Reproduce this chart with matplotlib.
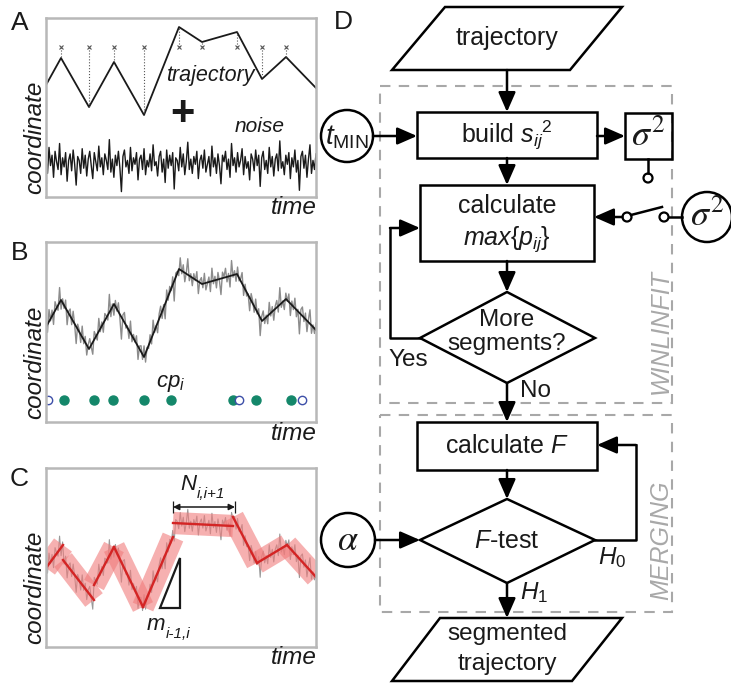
import numpy as np
import matplotlib.pyplot as plt
from matplotlib.patches import Rectangle, Polygon, Circle

plt.rcParams['font.family'] = 'Liberation Sans'
plt.rcParams['mathtext.fontset'] = 'custom'
plt.rcParams['mathtext.rm'] = 'Liberation Sans'
plt.rcParams['mathtext.it'] = 'Liberation Sans:italic'
plt.rcParams['mathtext.bf'] = 'Liberation Sans:bold'
plt.rcParams['mathtext.sf'] = 'Liberation Sans'

W, H = 731, 683

# true trajectory: change point times and heights (panel A and B)
cp_t = [0, 15, 43, 68, 98, 133, 156, 191, 216, 240, 270]
traj_y = [30, 57, 8, 53, 0, 88, 73, 83, 36, 58, 27]

# noise samples
noise = [
    0.3, -0.8, 1.2, -0.2, 0.6, -1.1, 0.9, 0.1, -0.5, 1.5,
    -0.9, 0.4, -0.3, 0.8, -1.4, 0.2, 0.7, -0.6, 1.0, -0.1,
    -1.7, 0.5, 0.2, -0.8, 1.1, -0.4, 0.6, -1.0, 0.3, 0.9,
    -0.2, -1.2, 0.8, 0.1, -0.6, 1.3, -0.3, 0.4, -0.9, 0.7,
    0.2, -0.5, 1.8, -0.7, 0.3, -1.1, 0.6, -0.2, 0.9, -0.4,
    -2.2, 0.5, 1.0, -0.3, 0.2, -0.8, 1.2, -0.6, 0.4, -0.1,
    0.8, -1.3, 0.3, 0.6, -0.5, 1.1, -0.9, 0.2, -0.3, 0.7,
    -0.6, 1.4, -0.2, 0.1, -1.0, 0.5, 0.9, -0.7, 0.3, -1.5,
    1.0, -0.4, 0.6, -0.2, 0.8, -2.0, 0.4, 0.2, -0.6, 1.2,
    -0.3, 0.7, -0.9, 0.1, 1.6, -0.5, 0.3, -0.8, 0.5, -0.1,
    0.9, -1.2, 0.2, 0.6, -0.4, 1.0, -0.7, -0.1, 0.5, -1.0,
    1.3, -0.3, 0.4, -0.8, 0.7, -0.2, -1.6, 0.6, 0.1, 0.9,
    -0.5, 0.3, -1.1, 1.5, -0.2, 0.4, -0.7, 0.8, -0.3, 0.2,
    1.1, -0.9, 0.5, -0.4, 0.1, -1.3, 0.7, 0.3, -0.6, 1.0,
    -0.2, 0.6, -1.8, 0.4, 0.9, -0.5, 0.2, -0.8, 1.2, -0.3,
    0.5, -1.0, 0.3, 0.7, -0.6, 1.7, -0.4, 0.1, -0.9, 0.6,
    -0.1, 0.8, -1.2, 0.4, -0.3, 1.0, -0.7, 0.2, -2.1, 0.5,
    0.9, -0.4, 0.6, -1.1, 0.3, 1.4, -0.8, 0.2, -0.5, 0.7,
]

# change points found in panel B
cp_found = [18, 48, 67, 98, 125, 187, 210, 245]
cp_missed = [2, 193, 256]

# fitted segments in panel C
seg_t0 = [0, 17, 48, 68, 97, 127, 187, 211, 241]
seg_t1 = [17, 48, 68, 97, 127, 187, 211, 241, 270]
seg_y0 = [79, 87, 62, 100, 40, 124, 130, 84, 102]
seg_y1 = [102, 47, 100, 40, 110, 121, 84, 102, 70]

noise = np.array(noise)
t = np.linspace(0, 270, len(noise))
traj_y = np.array(traj_y)

fig = plt.figure(figsize=(W / 100, H / 100), dpi=100)


def px_axes(x0, y0, x1, y1):
    ax = fig.add_axes([x0 / W, 1 - y1 / H, (x1 - x0) / W, (y1 - y0) / H])
    ax.set_xlim(0, 270)
    ax.set_ylim(0, y1 - y0)
    ax.set_xticks([])
    ax.set_yticks([])
    for s in ax.spines.values():
        s.set_color('#b8b8b8')
        s.set_linewidth(1.8)
    return ax


# panel A
axA = px_axes(46, 18, 316, 197)
axA.plot(t, 34 + 13 * noise, color='#1a1a1a', lw=1.0)
axA.plot(cp_t, traj_y + 82, color='#1a1a1a', lw=1.3)
axA.vlines(cp_t[1:-1], 150, traj_y[1:-1] + 82, colors='#555555', linestyles=':', lw=0.8)
axA.plot(cp_t[1:-1], [150] * (len(cp_t) - 2), 'x', color='#555555', ms=3.5, mew=0.8)

# panel B
axB = px_axes(46, 242, 316, 422)
axB.plot(t, np.interp(t, cp_t, traj_y) + 65 + 10 * noise, color='#8c8c8c', lw=1.0)
axB.plot(cp_t, traj_y + 65, color='#1a1a1a', lw=1.3)
axB.plot(cp_found, [22] * len(cp_found), 'o', color='#14876a', ms=6.5)
axB.plot(cp_missed, [22] * len(cp_missed), 'o', mfc='white', mec='#3d4fa8', ms=6, mew=1)

# panel C
axC = px_axes(46, 468, 316, 647)
c_base = np.zeros_like(t)
for a, b, y0, y1 in zip(seg_t0, seg_t1, seg_y0, seg_y1):
    m = (t >= a) & (t <= b)
    c_base[m] = y0 + (y1 - y0) * (t[m] - a) / (b - a)
axC.plot(t, c_base + 9 * noise, color='#9a9a9a', lw=0.8)
for a, b, y0, y1 in zip(seg_t0, seg_t1, seg_y0, seg_y1):
    axC.plot([a, b], [y0, y1], color='#f07c7c', alpha=0.6, lw=16, solid_capstyle='butt')
for a, b, y0, y1 in zip(seg_t0, seg_t1, seg_y0, seg_y1):
    axC.plot([a, b], [y0, y1], color='#d42424', lw=1.7)
axC.add_patch(Polygon([(114, 39), (134, 39), (134, 89)], closed=True, fill=False,
                      ec='#1a1a1a', lw=1.6))
axC.annotate('', xy=(127, 140), xytext=(189, 140),
             arrowprops=dict(arrowstyle='<|-|>', color='#1a1a1a', lw=1.1,
                             mutation_scale=9, shrinkA=0, shrinkB=0))
axC.vlines([127, 189], 134, 146, colors='#1a1a1a', lw=0.9)

# overlay in figure pixels
bg = fig.add_axes([0, 0, 1, 1])
bg.set_xlim(0, W)
bg.set_ylim(H, 0)
bg.axis('off')

txt = '#1a1a1a'
for lab, x, y in [('A', 20, 23), ('B', 20, 253), ('C', 19, 479), ('D', 343, 22)]:
    bg.text(x, y, lab, fontsize=19, ha='center', va='center', color=txt)
for y_bot, y_time in [(197, 208), (422, 434), (647, 658)]:
    bg.text(35, y_bot - 3, 'coordinate', rotation=90, fontsize=17.5, style='italic',
            ha='center', va='bottom', color=txt)
    bg.text(317, y_time, 'time', fontsize=17.5, style='italic', ha='right', va='center', color=txt)

bg.text(210, 76, 'trajectory', fontsize=15.5, style='italic', ha='center', va='center', color=txt)
bg.text(182, 114, '+', fontsize=30, fontweight='bold', ha='center', va='center', color=txt)
bg.text(260, 126, 'noise', fontsize=15, style='italic', ha='center', va='center', color=txt)
bg.text(171, 384, r'$cp_i$', fontsize=16, ha='center', va='center', color=txt)


def sub_label(x, y, main, sub):
    m = bg.text(x, y, main, fontsize=16, style='italic', ha='left', va='baseline', color=txt)
    bg.annotate(sub, xy=(1, 0), xycoords=m, xytext=(0.5, 0.5), textcoords='offset points',
                fontsize=11, style='italic', ha='left', va='center', color=txt)


sub_label(180, 490, 'N', 'i,i+1')
sub_label(147, 630, 'm', 'i-1,i')

# flowchart
LW = 1.8


def arrow(x0, y0, x1, y1):
    bg.annotate('', xy=(x1, y1), xytext=(x0, y0),
                arrowprops=dict(arrowstyle='-|>,head_length=0.8,head_width=0.35',
                                color='k', lw=LW, mutation_scale=15, shrinkA=0, shrinkB=0))


def box(x0, y0, x1, y1):
    bg.add_patch(Rectangle((x0, y0), x1 - x0, y1 - y0, fill=False, ec='k', lw=LW))


def poly(pts):
    bg.add_patch(Polygon(pts, closed=True, fill=False, ec='k', lw=LW))


def circle(x, y, r, lw=LW):
    bg.add_patch(Circle((x, y), r, fill=False, ec='k', lw=lw))


gray = '#a8a8a8'
bg.add_patch(Rectangle((380, 86), 292, 317, fill=False, ec=gray, lw=1.5, ls=(0, (5, 4))))
bg.add_patch(Rectangle((380, 415), 292, 197, fill=False, ec=gray, lw=1.5, ls=(0, (5, 4))))
bg.text(661, 331, 'WINLINFIT', rotation=90, fontsize=18, style='italic', color=gray,
        ha='center', va='center')
bg.text(661, 540, 'MERGING', rotation=90, fontsize=18, style='italic', color=gray,
        ha='center', va='center')

poly([(445, 7), (622, 7), (570, 70), (392, 70)])
bg.text(507, 38, 'trajectory', fontsize=18, ha='center', va='center', color=txt)
arrow(507, 70, 507, 112)

box(417, 112, 597, 158)
bg.text(507, 135, r'build $s_{ij}{}^{2}$', fontsize=18, ha='center', va='center', color=txt)
circle(347, 136, 26)
bg.text(347, 137, r'$t_{\mathrm{MIN}}$', fontsize=20, ha='center', va='center', color=txt)
arrow(373, 136, 417, 136)
arrow(597, 136, 625, 136)
box(625, 113, 672, 159)
bg.text(648, 136, r'$\sigma^2$', fontsize=26, ha='center', va='center', color=txt,
        math_fontfamily='stix')
bg.plot([648, 648], [159, 173], color='k', lw=LW)
circle(648, 178, 4.5, lw=1.6)

arrow(507, 158, 507, 185)
box(420, 185, 594, 261)
bg.text(507, 206, 'calculate', fontsize=18, ha='center', va='center', color=txt)
bg.text(507, 239, r'$max\{p_{ij}\}$', fontsize=18, ha='center', va='center', color=txt)

circle(707, 217, 25)
bg.text(707, 217, r'$\sigma^2$', fontsize=26, ha='center', va='center', color=txt,
        math_fontfamily='stix')
bg.plot([668.5, 682], [217, 217], color='k', lw=LW)
circle(664, 217, 4.5, lw=1.6)
circle(627, 217, 4.5, lw=1.6)
bg.plot([631, 662], [215, 207], color='k', lw=LW)
arrow(622.5, 217, 594, 217)

arrow(507, 261, 507, 292)
poly([(507, 292), (595, 338), (507, 383), (420, 338)])
bg.text(507, 320, 'More', fontsize=17.5, ha='center', va='center', color=txt)
bg.text(507, 344, 'segments?', fontsize=17.5, ha='center', va='center', color=txt)
bg.plot([420, 390, 390], [338, 338, 228], color='k', lw=LW)
arrow(390, 228, 420, 228)
bg.text(408, 360, 'Yes', fontsize=17.5, ha='center', va='center', color=txt)
bg.text(535, 391, 'No', fontsize=17.5, ha='center', va='center', color=txt)

arrow(507, 383, 507, 422)
box(417, 422, 597, 470)
bg.text(507, 446, r'calculate $F$', fontsize=18, ha='center', va='center', color=txt)
arrow(507, 470, 507, 499)
poly([(507, 499), (595, 540), (507, 583), (420, 540)])
bg.text(507, 541, r'$F$-test', fontsize=18, ha='center', va='center', color=txt)
bg.plot([595, 636, 636], [540, 540, 445], color='k', lw=LW)
arrow(636, 445, 597, 445)
bg.text(612, 558, r'$H_{\mathit{0}}$', fontsize=17.5, ha='center', va='center', color=txt)

circle(348, 540, 27)
bg.text(348, 540, r'$\alpha$', fontsize=26, ha='center', va='center', color=txt,
        math_fontfamily='stix')
arrow(375, 540, 420, 540)

arrow(507, 583, 507, 618)
bg.text(534, 593, r'$H_{\mathit{1}}$', fontsize=17.5, ha='center', va='center', color=txt)
poly([(440, 618), (622, 618), (572, 681), (392, 681)])
bg.text(507, 634, 'segmented', fontsize=17.5, ha='center', va='center', color=txt)
bg.text(507, 664, 'trajectory', fontsize=17.5, ha='center', va='center', color=txt)

fig.savefig('out.png', dpi=100)
